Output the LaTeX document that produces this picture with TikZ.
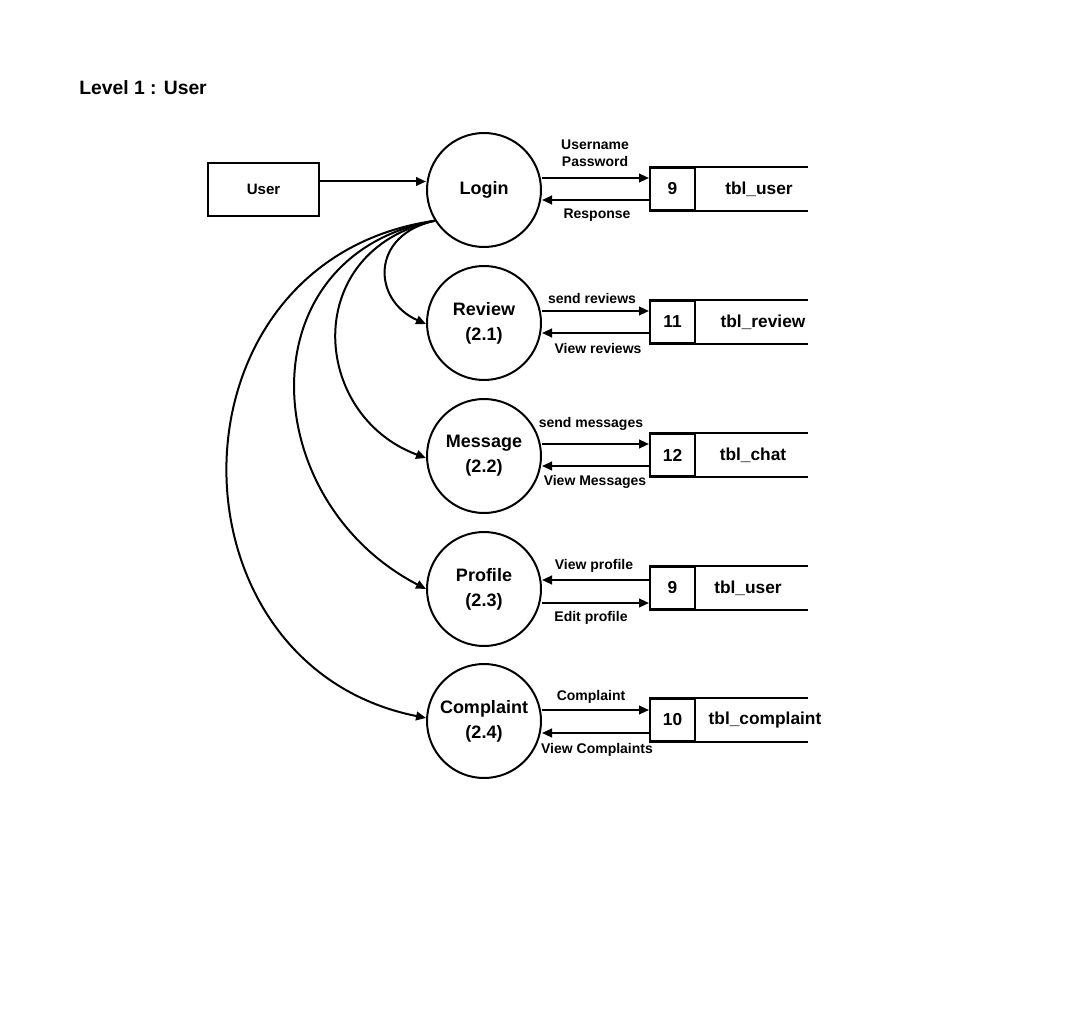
\documentclass[tikz,border=0pt]{standalone}
\usepackage{fontspec}
\setmainfont{Liberation Sans}
\usetikzlibrary{arrows.meta,calc}

\begin{document}
\begin{tikzpicture}[x=0.75pt,y=-0.75pt,
  ln/.style={line width=1.5pt},
  proc/.style={ln,draw,circle,minimum size=85.5pt,inner sep=0pt,align=center,
    font=\bfseries\fontsize{13.5}{18.75}\selectfont},
  ext/.style={ln,draw,minimum width=83.25pt,minimum height=39.75pt,inner sep=0pt,
    font=\bfseries\fontsize{11.3}{13}\selectfont},
  cell/.style={ln,draw,minimum width=33.75pt,minimum height=31.5pt,inner sep=0pt,
    font=\bfseries\fontsize{13}{15}\selectfont},
  tname/.style={inner sep=0pt,font=\bfseries\fontsize{13}{15}\selectfont},
  lbl/.style={inner sep=0pt,align=center,font=\bfseries\fontsize{10.5}{12.5}\selectfont},
  flow/.style={ln,-{Triangle[length=7.5pt,width=6.5pt]}},
]
\useasboundingbox (0,0) rectangle (1072,1020);

% title
\node[inner sep=0pt,anchor=west,font=\bfseries\fontsize{14.5}{17}\selectfont] (title) at (79,88) {Level 1 : User};

% external entity and processes
\node[ext] (user) at (263.5,189.5) {User};
\node[proc] (login) at (484,190) {\raisebox{-1pt}{Login}};
\node[proc] (review) at (484,323) {Review\\(2.1)};
\node[proc] (message) at (484,456) {Message\\(2.2)};
\node[proc] (profile) at (484,589) {Profile\\(2.3)};
\node[proc] (complaint) at (484,721) {Complaint\\(2.4)};

% data stores (open on the right)
\foreach \id/\y/\num/\nm/\nx in {s1/189/9/tbl\_user/759, s2/322/11/tbl\_review/763,
    s3/455/12/tbl\_chat/753, s4/588/9/tbl\_user/748, s5/720/10/tbl\_complaint/765}{
  \node[cell] (\id) at (672.5,\y) {\num};
  \draw[ln] (\id.north west) -- ++(159,0);
  \draw[ln] (\id.south west) -- ++(159,0);
  \node[tname] (\id n) at (\nx,\y) {\nm};
}

% entity to login
\coordinate (ua) at ($(user.east)+(0,-8)$);
\draw[flow] (ua) -- (ua -| login.west);

% login branches to the sub-processes
\draw[flow] (login.212) .. controls (370,235) and (372,300) .. (review.181);
\draw[flow] (login.212) .. controls (300,250) and (310,415) .. (message.182);
\draw[flow] (login.212) .. controls (245,255) and (255,500) .. (profile.180);
\draw[flow] (login.212) .. controls (160,260) and (160,665) .. (complaint.177);

% flows between processes and stores
\draw[flow] ($(login.east)+(0,-12)$) -- ($(s1.west)+(0,-11)$);
\draw[flow] ($(s1.west)+(0,11)$) -- ($(login.east)+(0,10)$);
\draw[flow] ($(review.east)+(0,-12)$) -- ($(s2.west)+(0,-11)$);
\draw[flow] ($(s2.west)+(0,11)$) -- ($(review.east)+(0,10)$);
\draw[flow] ($(message.east)+(0,-12)$) -- ($(s3.west)+(0,-11)$);
\draw[flow] ($(s3.west)+(0,11)$) -- ($(message.east)+(0,10)$);
\draw[flow] ($(s4.west)+(0,-8)$) -- ($(profile.east)+(0,-9)$);
\draw[flow] ($(profile.east)+(0,14)$) -- ($(s4.west)+(0,15)$);
\draw[flow] ($(complaint.east)+(0,-11)$) -- ($(s5.west)+(0,-10)$);
\draw[flow] ($(s5.west)+(0,13)$) -- ($(complaint.east)+(0,12)$);

% flow labels
\node[lbl] (l1a) at (595,153) {Username\\Password};
\node[lbl] (l1b) at (597,215) {Response};
\node[lbl] (l2a) at (592,298) {send reviews};
\node[lbl] (l2b) at (598,348) {View reviews};
\node[lbl] (l3a) at (591,424) {send messages};
\node[lbl] (l3b) at (595,482) {View Messages};
\node[lbl] (l4a) at (594,566) {View profile};
\node[lbl] (l4b) at (591,618) {Edit profile};
\node[lbl] (l5a) at (591,697) {Complaint};
\node[lbl] (l5b) at (597,750) {View Complaints};
\end{tikzpicture}
\end{document}
